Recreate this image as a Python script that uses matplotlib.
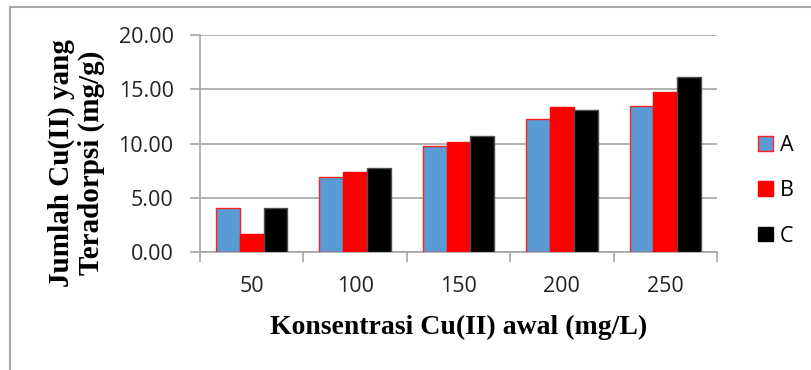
import matplotlib.pyplot as plt
from matplotlib.lines import Line2D
from matplotlib.patches import Patch

#data
categories = ['50', '100', '150', '200', '250']
valsA = [4.06, 6.97, 9.80, 12.26, 13.48]
valsB = [1.66, 7.43, 10.20, 13.36, 14.77]
valsC = [4.11, 7.74, 10.75, 13.12, 16.13]
seriesNames = ['A', 'B', 'C']

fig = plt.figure(figsize=(8.11, 3.70), dpi=100)
ax = fig.add_axes([0.2466, 0.318, 0.6374, 0.587])

#bars
w = 0.23
pos = list(range(len(categories)))
ax.bar([p - w for p in pos], valsA, w, color='#5B9BD5', edgecolor='#FF2020', linewidth=1.0, zorder=3)
ax.bar(pos, valsB, w, color='#FF0000', edgecolor='#FF0000', linewidth=1.0, zorder=3)
ax.bar([p + w for p in pos], valsC, w, color='#000000', edgecolor='#505050', linewidth=1.0, zorder=3)

#axes setup
ax.set_xlim(-0.5, 4.5)
ax.set_ylim(0, 20)
ax.set_yticks([0, 5, 10, 15, 20])
ax.set_yticklabels(['%.2f' % v for v in [0, 5, 10, 15, 20]])
ax.yaxis.grid(True, color='#A6A6A6', linewidth=1.2, zorder=0)
ax.set_axisbelow(True)

ax.set_xticks([p - 0.5 for p in pos] + [4.5])
ax.set_xticklabels([])
ax.set_xticks(pos, minor=True)
ax.set_xticklabels(categories, minor=True)
ax.tick_params(axis='x', which='major', length=7, width=1.2, color='#A6A6A6', direction='out')
ax.tick_params(axis='x', which='minor', length=0, pad=17)
ax.tick_params(axis='y', length=7, width=1.2, color='#A6A6A6', direction='out', pad=12)

for lab in ax.get_xticklabels(minor=True) + ax.get_yticklabels():
    lab.set_fontfamily('Open Sans')
    lab.set_fontsize(15.5)
    lab.set_color('#222222')

for s in ['top', 'right']:
    ax.spines[s].set_visible(False)
for s in ['left', 'bottom']:
    ax.spines[s].set_color('#A6A6A6')
    ax.spines[s].set_linewidth(1.2)

#labels
ax.set_xlabel('Konsentrasi Cu(II) awal (mg/L)', fontfamily='Liberation Serif',
              fontweight='bold', fontsize=20)
ax.xaxis.set_label_coords(0.5, -0.29)
ax.set_ylabel('Jumlah Cu(II) yang\nTeradorpsi (mg/g)', fontfamily='Liberation Serif',
              fontweight='bold', fontsize=21, linespacing=1.1)
ax.yaxis.set_label_coords(-0.184, 0.41)

#legend
handles = [Patch(facecolor='#5B9BD5', edgecolor='#FF2020', linewidth=1.0),
           Patch(facecolor='#FF0000', edgecolor='#FF0000'),
           Patch(facecolor='#000000', edgecolor='#000000')]
leg = fig.legend(handles, seriesNames, loc='center left', bbox_to_anchor=(0.9346, 0.484),
                 frameon=False, handlelength=0.68, handleheight=0.68, handletextpad=0.35,
                 labelspacing=1.12, borderpad=0, borderaxespad=0,
                 prop={'family': 'Open Sans', 'size': 15.5})

#outer frame (left and top only visible)
fig.add_artist(Line2D([10 / 811, 10 / 811], [0, 1 - 7 / 370], transform=fig.transFigure,
                      color='#A6A6A6', linewidth=1.5))
fig.add_artist(Line2D([10 / 811, 1], [1 - 7 / 370, 1 - 7 / 370], transform=fig.transFigure,
                      color='#A6A6A6', linewidth=1.5))

plt.savefig('out.png', dpi=100)
